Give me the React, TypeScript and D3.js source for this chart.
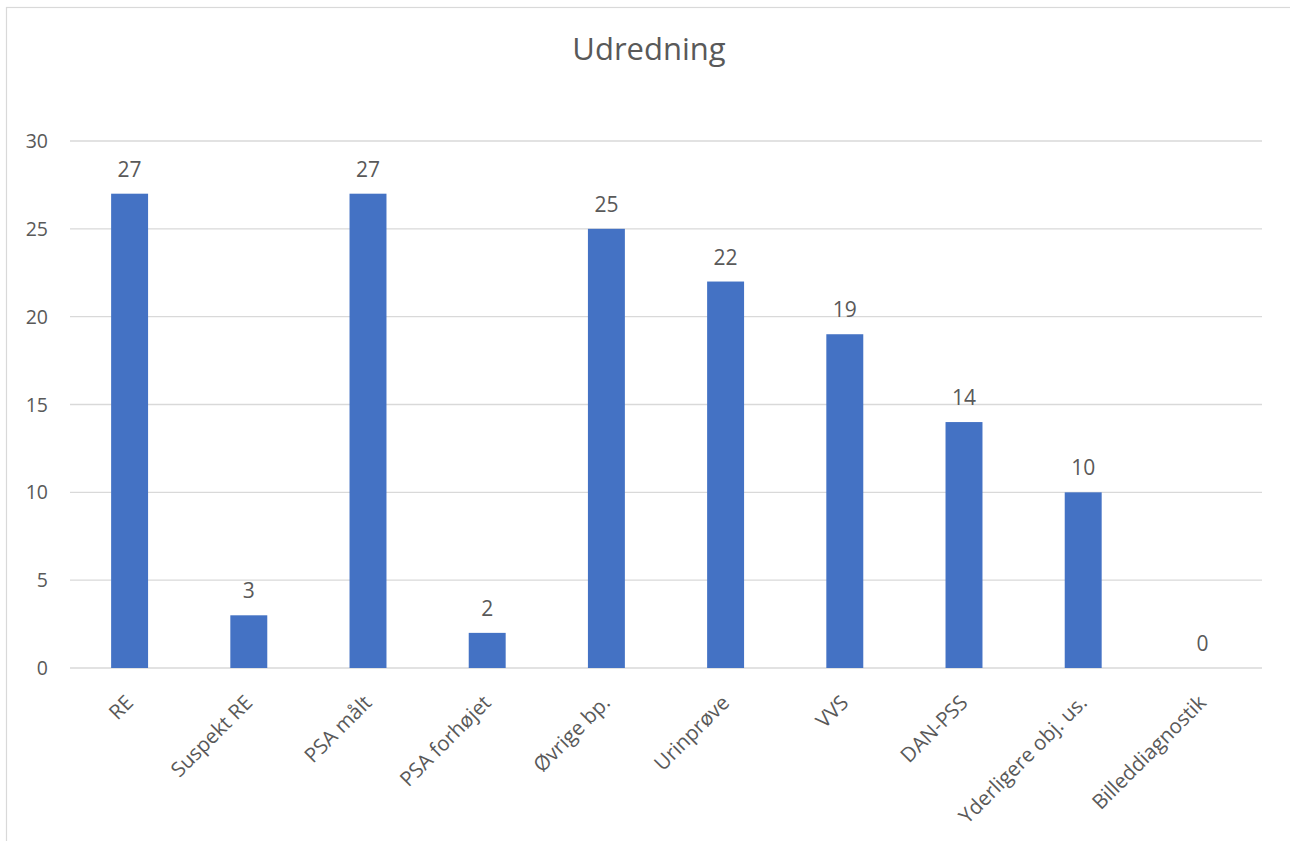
import React from "react";
import * as d3 from "d3";

const categories = ["RE", "Suspekt RE", "PSA målt", "PSA forhøjet", "Øvrige bp.", "Urinprøve", "VVS", "DAN-PSS", "Yderligere obj. us.", "Billeddiagnostik"];
const values = [27, 3, 27, 2, 25, 22, 19, 14, 10, 0];
const yTicks = [0, 5, 10, 15, 20, 25, 30];
const title = "Udredning";

const W = 1290;
const H = 841;
const FONT = "'Open Sans', 'Noto Sans', sans-serif";
const TEXT = "#595959";

export default function App() {
  const left = 70, right = 1262, top = 141, bottom = 668;
  const x = d3.scaleBand<string>().domain(categories).range([left, right]).paddingInner(0.69).paddingOuter(0.345);
  const y = d3.scaleLinear().domain([0, 30]).range([bottom, top]);
  return (
    <svg width={W} height={H} style={{ position: "absolute", left: 0, top: 0 }}>
      <rect x={0} y={0} width={W} height={H} fill="#fff" />
      <rect x={6.5} y={7.5} width={W + 20} height={H + 20} fill="none" stroke="#d9d9d9" strokeWidth={1.2} />
      <text x={649} y={59.5} textAnchor="middle" fontFamily={FONT} fontSize={31} fill={TEXT}>{title}</text>
      {yTicks.map((t) => (
        <g key={t}>
          <line x1={left} x2={right} y1={y(t)} y2={y(t)} stroke="#d9d9d9" strokeWidth={1.3} />
          <text x={48} y={y(t) + 7} textAnchor="end" fontFamily={FONT} fontSize={19.5} fill={TEXT}>{t}</text>
        </g>
      ))}
      {categories.map((c, i) => {
        const bx = x(c)!;
        const bw = x.bandwidth();
        const v = values[i];
        const cx = bx + bw / 2;
        return (
          <g key={c}>
            {v > 0 && <rect x={bx} y={y(v)} width={bw} height={y(0) - y(v)} fill="#4472C4" />}
            <text x={cx} y={y(v) - 17} textAnchor="middle" fontFamily={FONT} fontSize={21} fill={TEXT}>{v}</text>
            <text transform={`translate(${cx + 5},${704}) rotate(-45)`} textAnchor="end" fontFamily={FONT} fontSize={20.5} fill={TEXT}>{c}</text>
          </g>
        );
      })}
    </svg>
  );
}
